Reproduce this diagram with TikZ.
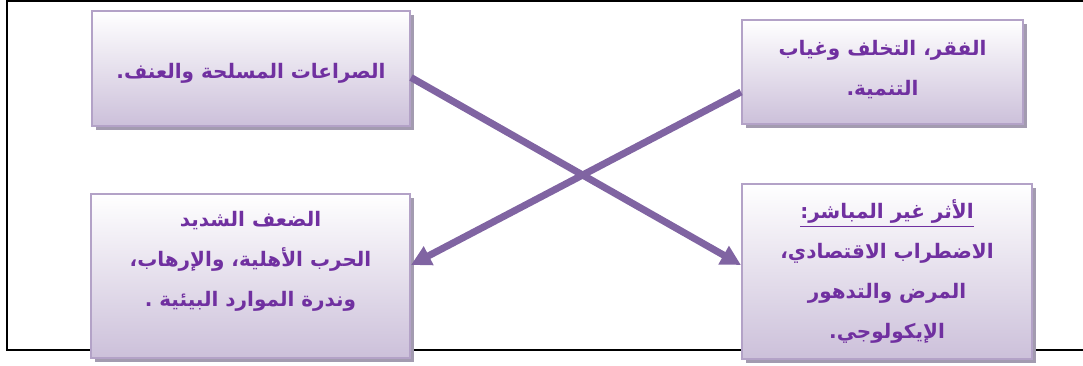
\documentclass[tikz,border=0pt]{standalone}
\usepackage{fontspec}
\TeXXeTstate=1
\newfontfamily\arabicfont[Script=Arabic]{DejaVu Sans}
\usetikzlibrary{arrows.meta,shadows}
\definecolor{framecol}{HTML}{000000}
\definecolor{boxedge}{HTML}{B3A2C7}
\definecolor{boxbot}{HTML}{CCC0DA}
\definecolor{shadowcol}{HTML}{A39BB0}
\definecolor{txtcol}{HTML}{7030A0}
\definecolor{arrcol}{HTML}{8064A2}
\newcommand\myuline[1]{\vtop{\hbox{#1}\kern2.5pt\hrule height 1.6pt}}
\tikzset{
  box/.style={draw=boxedge, line width=2pt, top color=white, bottom color=boxbot,
    rectangle, inner sep=0pt,
    drop shadow={shadow xshift=4pt, shadow yshift=-4pt, fill=shadowcol, opacity=1}},
  txt/.style={text=txtcol, font=\arabicfont\bfseries\fontsize{20}{40}\selectfont, align=center, inner sep=0pt},
  arr/.style={draw=arrcol, line width=7pt, -{Triangle[length=20pt,width=20pt]}},
}
\begin{document}
\begin{tikzpicture}[x=1pt,y=-1pt]
\useasboundingbox (0,0) rectangle (1083,365);
% frame
\draw[framecol, line width=2pt] (1083,1) -- (7,1) -- (7,350) -- (1083,350);
% boxes
\node[box, minimum width=318pt, minimum height=115pt] (b1) at (251,68.5) {};
\node[box, minimum width=281pt, minimum height=104pt] (b2) at (882.5,72) {};
\node[box, minimum width=319pt, minimum height=164pt] (b3) at (250.5,276) {};
\node[box, minimum width=290pt, minimum height=175pt] (b4) at (887,271.5) {};
% texts
\node[txt] (t1) at ([yshift=-5pt]b1.center) {\beginR الصراعات المسلحة والعنف.\endR};
\node[txt] (t2) at ([yshift=2pt]b2.center) {\beginR الفقر، التخلف وغياب\endR\\\beginR التنمية.\endR};
\node[txt] (t3) at ([yshift=15pt]b3.center) {\beginR الضعف الشديد\endR\\\beginR الحرب الأهلية، والإرهاب،\endR\\\beginR وندرة الموارد البيئية .\endR};
\node[txt] (t4) at (b4.center) {\myuline{\beginR الأثر غير المباشر:\endR}\\\beginR الاضطراب الاقتصادي،\endR\\\beginR المرض والتدهور\endR\\\beginR الإيكولوجي.\endR};
% arrows
\draw[arr] ([yshift=-9pt]b1.east) -- ([yshift=6.5pt]b4.west);
\draw[arr] ([yshift=-20pt]b2.west) -- ([yshift=11pt]b3.east);
\end{tikzpicture}
\end{document}
